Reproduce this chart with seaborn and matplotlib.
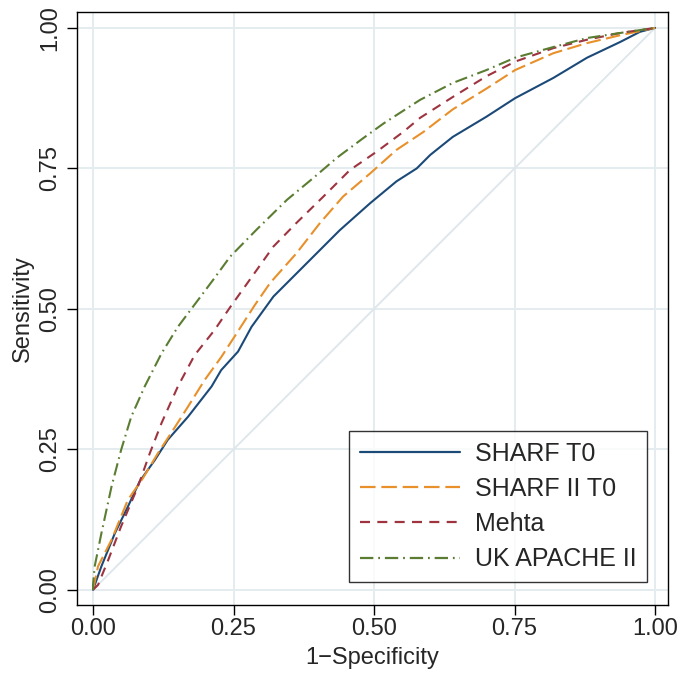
"""
ROC curves for the four severity scores (SHARF T0, SHARF II T0, Mehta, UK APACHE II).
"""

import matplotlib
matplotlib.use("Agg")
import matplotlib.pyplot as plt
import pandas as pd
import seaborn as sns

# --- values (1-specificity, sensitivity) ---
sharf_t0_x = [0.0, 0.015, 0.039, 0.062, 0.083, 0.110, 0.133, 0.169, 0.211, 0.228,
              0.258, 0.282, 0.321, 0.362, 0.392, 0.439, 0.493, 0.540, 0.576, 0.600,
              0.64, 0.70, 0.751, 0.819, 0.879, 0.938, 0.973, 1.0]
sharf_t0_y = [0.0, 0.042, 0.101, 0.148, 0.193, 0.231, 0.267, 0.308, 0.362, 0.391,
              0.424, 0.468, 0.522, 0.563, 0.593, 0.640, 0.688, 0.727, 0.750, 0.774,
              0.806, 0.842, 0.875, 0.911, 0.947, 0.975, 0.993, 1.0]

sharf2_t0_x = [0.0, 0.009, 0.033, 0.062, 0.089, 0.116, 0.139, 0.169, 0.199, 0.228,
               0.252, 0.288, 0.315, 0.362, 0.404, 0.445, 0.493, 0.540, 0.588, 0.64,
               0.70, 0.751, 0.819, 0.879, 0.938, 1.0]
sharf2_t0_y = [0.0, 0.042, 0.089, 0.160, 0.199, 0.244, 0.279, 0.326, 0.374, 0.414,
               0.451, 0.507, 0.546, 0.599, 0.653, 0.700, 0.741, 0.783, 0.815, 0.855,
               0.892, 0.925, 0.955, 0.973, 0.987, 1.0]

mehta_x = [0.0, 0.009, 0.027, 0.050, 0.080, 0.101, 0.122, 0.151, 0.181, 0.216,
           0.244, 0.279, 0.321, 0.362, 0.410, 0.457, 0.505, 0.552, 0.582, 0.64,
           0.70, 0.751, 0.819, 0.879, 0.938, 1.0]
mehta_y = [0.0, 0.009, 0.053, 0.113, 0.184, 0.243, 0.297, 0.362, 0.418, 0.462,
           0.503, 0.552, 0.611, 0.653, 0.700, 0.747, 0.780, 0.815, 0.840, 0.877,
           0.914, 0.940, 0.964, 0.979, 0.991, 1.0]

apache_x = [0.0, 0.0, 0.003, 0.015, 0.033, 0.050, 0.068, 0.092, 0.122, 0.151,
            0.187, 0.214, 0.244, 0.291, 0.345, 0.392, 0.434, 0.481, 0.517, 0.582,
            0.64, 0.70, 0.751, 0.819, 0.879, 0.938, 1.0]
apache_y = [0.0, 0.009, 0.042, 0.101, 0.184, 0.249, 0.308, 0.362, 0.421, 0.468,
            0.516, 0.552, 0.593, 0.641, 0.694, 0.733, 0.769, 0.804, 0.830, 0.872,
            0.902, 0.925, 0.947, 0.966, 0.982, 0.991, 1.0]

models = ["SHARF T0", "SHARF II T0", "Mehta", "UK APACHE II"]
ref_line = [0.0, 1.0]
ticks = [0.0, 0.25, 0.5, 0.75, 1.0]
tick_labels = ["0.00", "0.25", "0.50", "0.75", "1.00"]

colors = {
    "SHARF T0": "#1c4a78",
    "SHARF II T0": "#e8902a",
    "Mehta": "#9e3440",
    "UK APACHE II": "#5a7d32",
}
dashes = {
    "SHARF T0": "",
    "SHARF II T0": (7, 2.6),
    "Mehta": (4.5, 3.3),
    "UK APACHE II": (6, 2.2, 0.8, 2.2),
}

frames = []
for name, xs, ys in zip(models,
                        [sharf_t0_x, sharf2_t0_x, mehta_x, apache_x],
                        [sharf_t0_y, sharf2_t0_y, mehta_y, apache_y]):
    frames.append(pd.DataFrame({"fpr": xs, "tpr": ys, "model": name}))
df = pd.concat(frames, ignore_index=True)

sns.set_style("white")
plt.rcParams["font.family"] = ["Liberation Sans", "DejaVu Sans"]

fig = plt.figure(figsize=(6.85, 6.76), dpi=100)
ax = fig.add_axes([0.1124, 0.105, 0.8628, 0.877])

# Stata-like light grid and 45 degree reference line
grid_col = "#e4ecf0"
for t in ticks:
    ax.axvline(t, color=grid_col, lw=1.4, zorder=0)
    ax.axhline(t, color=grid_col, lw=1.4, zorder=0)
ax.plot(ref_line, ref_line, color="#dfe7ec", lw=1.4, zorder=1)

sns.lineplot(data=df, x="fpr", y="tpr", hue="model", style="model",
             hue_order=models, style_order=models, palette=colors, dashes=dashes,
             estimator=None, sort=False, lw=1.5, ax=ax, zorder=3)

ax.set_xlim(-0.0285, 1.023)
ax.set_ylim(-0.027, 1.028)
ax.set_xticks(ticks)
ax.set_xticklabels(tick_labels)
ax.set_yticks(ticks)
ax.set_yticklabels(tick_labels, rotation=90, va="center")
ax.tick_params(axis="both", direction="out", length=7.2, width=1, color="black",
               labelsize=17, bottom=True, left=True)
ax.tick_params(axis="x", pad=2.5)
ax.tick_params(axis="y", pad=4)
ax.set_xlabel("1\u2212Specificity", fontsize=17, labelpad=5)
ax.set_ylabel("Sensitivity", fontsize=17, labelpad=4)
for sp in ax.spines.values():
    sp.set_color("black")
    sp.set_linewidth(1.0)

old = ax.get_legend()
handles = old.legend_handles
labels = [t.get_text() for t in old.texts]
old.remove()
leg = ax.legend(handles, labels, loc="lower right", bbox_to_anchor=(0.964, 0.039),
                borderaxespad=0, fontsize=18, frameon=True, fancybox=False,
                edgecolor="black", handlelength=4.0, handletextpad=0.6,
                labelspacing=0.45, borderpad=0.42)
leg.get_frame().set_linewidth(1.0)
for h in leg.legend_handles:
    h.set_linewidth(1.6)

fig.savefig("out.png", dpi=100)
